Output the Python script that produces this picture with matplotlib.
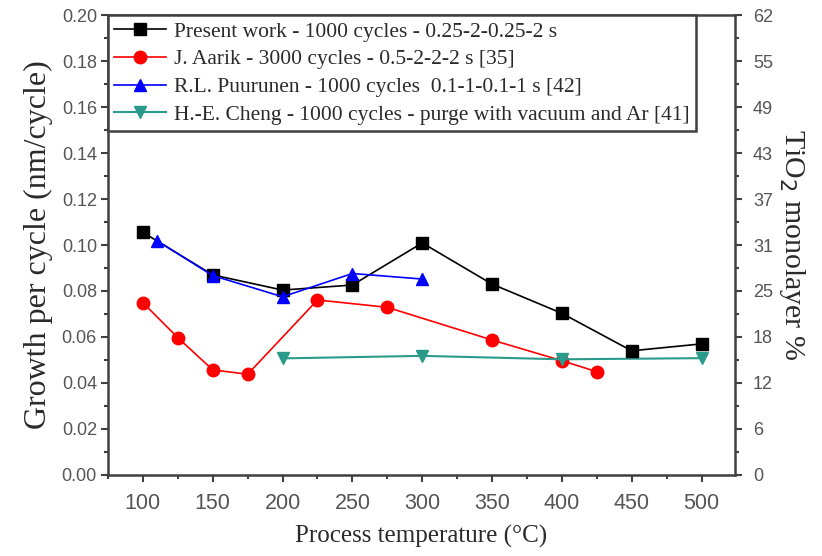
import matplotlib
matplotlib.use('Agg')
import matplotlib.pyplot as plt
from matplotlib.ticker import MultipleLocator, AutoMinorLocator

# growth per cycle (nm/cycle) vs process temperature (°C)
present_t = [100, 150, 200, 250, 300, 350, 400, 450, 500]
present_gpc = [0.1055, 0.087, 0.0804, 0.0826, 0.1009, 0.083, 0.0703, 0.054, 0.057]

aarik_t = [100, 125, 150, 175, 225, 275, 350, 400, 425]
aarik_gpc = [0.0749, 0.0597, 0.0457, 0.0438, 0.0761, 0.0729, 0.0587, 0.0497, 0.0449]

puurunen_t = [110, 150, 200, 250, 300]
puurunen_gpc = [0.1019, 0.0867, 0.0775, 0.0876, 0.0852]

cheng_t = [200, 300, 400, 500]
cheng_gpc = [0.0507, 0.0518, 0.0503, 0.0508]

labels = ["Present work - 1000 cycles - 0.25-2-0.25-2 s",
          "J. Aarik - 3000 cycles - 0.5-2-2-2 s [35]",
          "R.L. Puurunen - 1000 cycles  0.1-1-0.1-1 s [42]",
          "H.-E. Cheng - 1000 cycles - purge with vacuum and Ar [41]"]

right_ticks = [0, 6.2, 12.4, 18.6, 24.8, 31, 37.2, 43.4, 49.6, 55.8, 62]
right_labels = ['0', '6', '12', '18', '25', '31', '37', '43', '49', '55', '62']

serif = 'Liberation Serif'
sans = 'Liberation Sans'
spine_c = '#404040'
tick_c = '#555555'
text_c = '#2a2a2a'

fig = plt.figure(figsize=(8.22, 5.56), dpi=100)
ax = fig.add_axes([0.1314, 0.1457, 0.7628, 0.8273])

ax.plot(present_t, present_gpc, '-s', color='black', lw=1.2, ms=8.5, label=labels[0], zorder=3)
ax.plot(aarik_t, aarik_gpc, '-o', color='#ff0000', lw=1.2, ms=9, label=labels[1], zorder=2)
ax.plot(puurunen_t, puurunen_gpc, '-^', color='#0000ff', lw=1.2, ms=9, label=labels[2], zorder=4)
ax.plot(cheng_t, cheng_gpc, '-v', color='#2a9a8a', lw=1.5, ms=9, label=labels[3], zorder=2)

ax.set_xlim(75, 524)
ax.set_ylim(0, 0.2)
ax.xaxis.set_major_locator(MultipleLocator(50))
ax.xaxis.set_minor_locator(MultipleLocator(25))
ax.yaxis.set_major_locator(MultipleLocator(0.02))
ax.yaxis.set_minor_locator(MultipleLocator(0.01))
ax.yaxis.set_major_formatter(plt.FormatStrFormatter('%.2f'))

for s in ax.spines.values():
    s.set_color(spine_c)
    s.set_linewidth(1.8)

ax.tick_params(which='both', direction='out', color=spine_c, width=1.5, labelcolor=tick_c)
ax.tick_params(which='major', length=5)
ax.tick_params(which='minor', length=3)
ax.tick_params(axis='x', labelsize=15.5, pad=8)
ax.tick_params(axis='y', labelsize=13, pad=3)
for t in ax.get_xticklabels() + ax.get_yticklabels():
    t.set_family(sans)

ax.set_xlabel("Process temperature (\u00b0C)", family=serif, fontsize=18, color=text_c, labelpad=8)
ax.set_ylabel("Growth per cycle (nm/cycle)", family=serif, fontsize=23, color=text_c, labelpad=6)

ax2 = ax.twinx()
ax2.set_ylim(0, 62)
ax2.set_yticks(right_ticks)
ax2.set_yticklabels(right_labels, family=sans)
ax2.yaxis.set_minor_locator(AutoMinorLocator(2))
for s in ax2.spines.values():
    s.set_visible(False)
ax2.tick_params(which='both', direction='out', color=spine_c, width=1.5, labelcolor=tick_c, labelsize=13, pad=8)
ax2.tick_params(which='major', length=5)
ax2.tick_params(which='minor', length=3)
ax2.set_ylabel("TiO$_2$ monolayer %", family=serif, fontsize=21.5, color=text_c,
               rotation=270, labelpad=24)

leg = ax.legend(loc='upper left', bbox_to_anchor=(0, 1), borderaxespad=0,
                prop={'family': serif, 'size': 15.5}, fancybox=False,
                handlelength=2.4, handletextpad=0.35, labelspacing=0.36,
                borderpad=0.3, framealpha=1)
leg.get_frame().set_edgecolor(spine_c)
leg.get_frame().set_linewidth(1.8)
for t in leg.get_texts():
    t.set_color(text_c)

plt.savefig('out.png', dpi=100)
